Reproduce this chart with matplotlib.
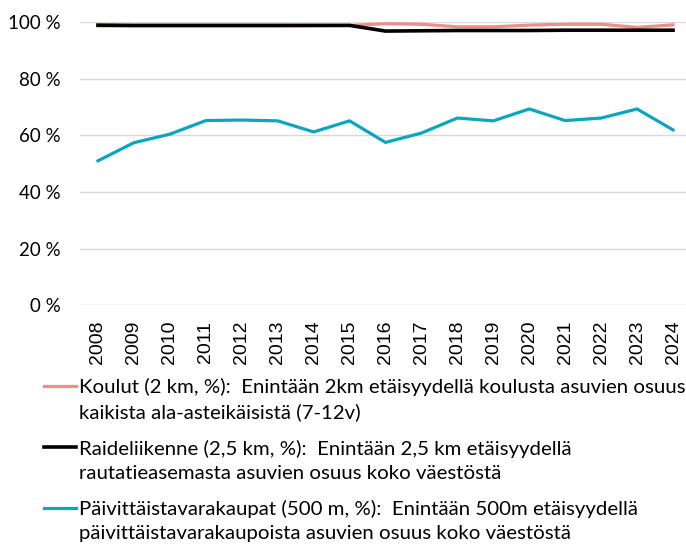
import matplotlib
matplotlib.use('Agg')
import matplotlib.pyplot as plt
from matplotlib.legend_handler import HandlerLine2D
from matplotlib.ticker import FuncFormatter

# data
years = list(range(2008, 2025))
koulut = [98.6, 98.6, 98.6, 98.6, 98.6, 98.6, 98.7, 98.8, 99.4, 99.2,
          98.3, 98.3, 98.9, 99.2, 99.2, 98.1, 99.0]
raide = [98.9, 98.8, 98.8, 98.8, 98.8, 98.8, 98.8, 98.8, 96.8, 96.9,
         97.0, 97.0, 97.0, 97.1, 97.1, 97.1, 97.1]
kaupat = [51.0, 57.4, 60.4, 65.2, 65.4, 65.1, 61.2, 65.1, 57.5, 60.8,
          66.1, 65.1, 69.3, 65.2, 66.1, 69.3, 61.9]

labels = [
    "Koulut (2 km, %):  Enintään 2km etäisyydellä koulusta asuvien osuus\nkaikista ala-asteikäisistä (7-12v)",
    "Raideliikenne (2,5 km, %):  Enintään 2,5 km etäisyydellä\nrautatieasemasta asuvien osuus koko väestöstä",
    "Päivittäistavarakaupat (500 m, %):  Enintään 500m etäisyydellä\npäivittäistavarakaupoista asuvien osuus koko väestöstä",
]
colors = ['#F08C8C', '#000000', '#0AA6BF']

main_font = ['Lato', 'DejaVu Sans']


class FirstLineHandler(HandlerLine2D):
    # put the legend line next to the first text line instead of the middle
    def create_artists(self, legend, orig_handle, xdescent, ydescent,
                       width, height, fontsize, trans):
        return super().create_artists(legend, orig_handle, xdescent,
                                      ydescent - 1.3 * fontsize, width,
                                      height, fontsize, trans)


fig = plt.figure(figsize=(6.86, 5.45), dpi=100)
W, H = 686, 545
ax = fig.add_axes([80 / W, (H - 305.3) / H, (691 - 80) / W, (305.3 - 22) / H])

l1, = ax.plot(years, koulut, color=colors[0], lw=2.3, clip_on=False, zorder=3)
l2, = ax.plot(years, raide, color=colors[1], lw=2.6, clip_on=False, zorder=4)
l3, = ax.plot(years, kaupat, color=colors[2], lw=2.3, clip_on=False, zorder=3)

ax.set_xlim(2007.5, 2024.5)
ax.set_ylim(0, 100)
ax.set_yticks(range(0, 101, 20))
ax.yaxis.set_major_formatter(FuncFormatter(lambda v, p: f"{int(v)} %"))
ax.set_xticks(years)
ax.set_xticklabels([str(y) for y in years], rotation=90,
                   fontsize=14, family='Liberation Sans')
for t in ax.get_yticklabels():
    t.set_fontsize(13.5)
    t.set_family(main_font)
ax.tick_params(axis='x', length=0, pad=11)
ax.tick_params(axis='y', length=0, pad=14)
ax.grid(axis='y', color='#d9d9d9', lw=1)
ax.set_axisbelow(True)
for s in ax.spines.values():
    s.set_visible(False)

leg = fig.legend([l1, l2, l3], labels, loc='upper left',
                 bbox_to_anchor=(44 / W, (H - 378) / H), frameon=False,
                 prop={'family': main_font, 'size': 14.7},
                 handlelength=1.55, handletextpad=0.18, labelspacing=0.9,
                 borderpad=0, borderaxespad=0,
                 handler_map={l1: FirstLineHandler(), l2: FirstLineHandler(),
                              l3: FirstLineHandler()})
for t in leg.get_texts():
    t.set_linespacing(1.5)

fig.savefig('out.png', dpi=100)
